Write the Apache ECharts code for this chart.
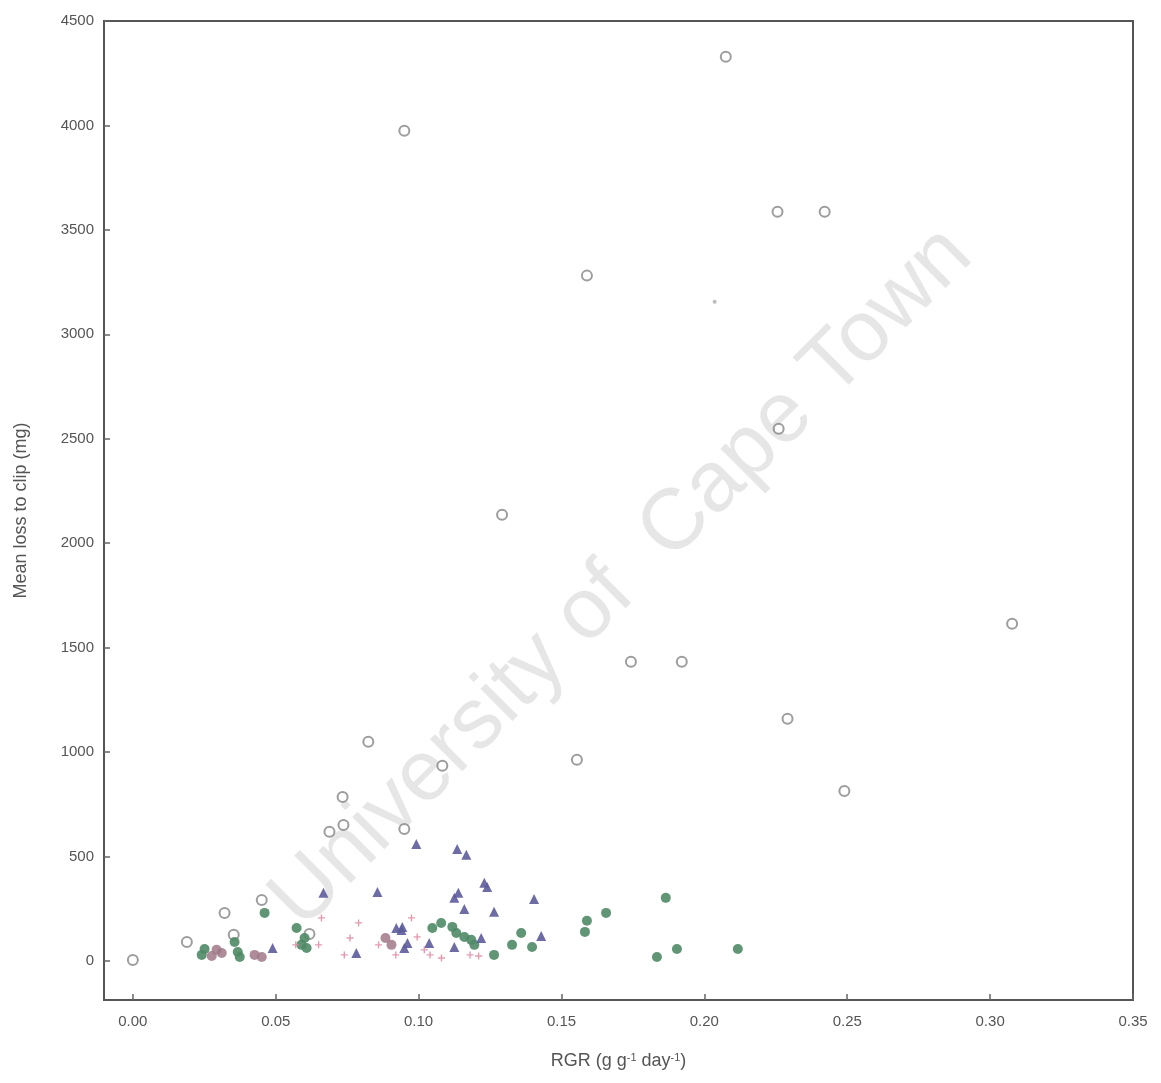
<!DOCTYPE html>
<html><head><meta charset="utf-8">
<script src="https://cdn.jsdelivr.net/npm/echarts@6/dist/echarts.min.js"></script>
<style>html,body{margin:0;padding:0;background:#fff}#c{width:1161px;height:1083px}</style>
</head><body><div id="c"></div>
<script>
// Data (RGR, mean loss to clip in mg)
var openSeries = [[0.000,5],[0.0189,91],[0.0321,230],[0.0353,125],[0.0451,292],[0.0618,129],[0.0688,618],[0.0734,785],[0.0737,651],[0.0824,1049],[0.0950,632],[0.0950,3975],[0.1083,934],[0.1292,2136],[0.1554,963],[0.1589,3281],[0.1743,1432],[0.1921,1432],[0.2075,4329],[0.2256,3587],[0.2421,3587],[0.2260,2548],[0.2291,1159],[0.2490,814],[0.3077,1614]];
var greenSeries = [[0.0241,29],[0.0251,57],[0.0367,43],[0.0356,91],[0.0374,19],[0.0461,230],[0.0573,158],[0.0590,77],[0.0601,110],[0.0608,62],[0.1048,158],[0.1079,182],[0.1118,163],[0.1132,134],[0.1160,115],[0.1184,101],[0.1195,77],[0.1359,134],[0.1327,77],[0.1397,67],[0.1264,29],[0.1865,302],[0.1656,230],[0.1589,192],[0.1582,139],[0.1904,57],[0.1834,19],[0.2117,57]];
var triSeries = [[0.0489,62],[0.0667,326],[0.0856,330],[0.0992,560],[0.1135,536],[0.1167,508],[0.1230,374],[0.1240,354],[0.1139,326],[0.1125,302],[0.1160,249],[0.1264,235],[0.1404,297],[0.1429,120],[0.1219,110],[0.1037,86],[0.1125,67],[0.0943,163],[0.0782,38],[0.0922,158],[0.0940,148],[0.0961,86],[0.0950,62]];
var mauveSeries = [[0.0293,53],[0.0311,38],[0.0276,24],[0.0426,29],[0.0451,19],[0.0884,110],[0.0905,77]];
var pinkSeries = [[0.066,206],[0.074,29],[0.079,182],[0.0975,206],[0.0995,115],[0.108,14],[0.121,24],[0.118,29],[0.065,77],[0.057,77],[0.076,110],[0.086,77],[0.092,29],[0.102,53],[0.104,29]];
var faintSeries = [[0.2036,3156]];
var xTicks = [0,0.05,0.10,0.15,0.20,0.25,0.30,0.35];
var yTicks = [0,500,1000,1500,2000,2500,3000,3500,4000,4500];

var font = '"Liberation Sans Narrow","Liberation Sans",Arial,sans-serif';
var chart = echarts.init(document.getElementById('c'));
chart.setOption({
  animation:false,
  grid:{left:104,right:28,top:21,bottom:83,show:true,borderColor:'#555',borderWidth:2,backgroundColor:'transparent'},
  xAxis:{type:'value',min:-0.0101,max:0.35,
    axisLine:{show:false,onZero:false},
    axisTick:{show:true,inside:true,length:6,customValues:xTicks,lineStyle:{color:'#666',width:1.5}},
    axisLabel:{customValues:xTicks,formatter:function(v){return v.toFixed(2);},color:'#555',fontFamily:font,fontSize:15,margin:14},
    splitLine:{show:false},
    name:'RGR (g g{s|-1} day{s|-1})',nameLocation:'middle',nameGap:52,
    nameTextStyle:{color:'#555',fontFamily:font,fontSize:18,rich:{s:{fontSize:11,verticalAlign:'top',padding:[0,0,8,0],color:'#555',fontFamily:font}}}
  },
  yAxis:{type:'value',min:-187,max:4500,
    axisLine:{show:false,onZero:false},
    axisTick:{show:true,inside:true,length:6,customValues:yTicks,lineStyle:{color:'#666',width:1.5}},
    axisLabel:{customValues:yTicks,formatter:function(v){return String(v);},color:'#555',fontFamily:font,fontSize:15,margin:10},
    splitLine:{show:false},
    name:'Mean loss to clip (mg)',nameLocation:'middle',nameGap:74,nameRotate:90,
    nameTextStyle:{color:'#555',fontFamily:font,fontSize:18}
  },
  graphic:[{type:'text',
    style:{text:'University of  Cape Town',fill:'rgba(200,200,200,0.45)',font:'86px "Liberation Sans",Arial,sans-serif',textAlign:'center',textVerticalAlign:'middle'},
    x:622,y:578,rotation:Math.PI/4,z:1,silent:true}],
  series:[
    {type:'scatter',data:openSeries,symbol:'emptyCircle',symbolSize:10,itemStyle:{color:'#858585',borderWidth:2.5},z:3},
    {type:'scatter',data:greenSeries,symbol:'circle',symbolSize:10,itemStyle:{color:'#4f8a66',opacity:0.9},z:4},
    {type:'scatter',data:triSeries,symbol:'triangle',symbolSize:10,itemStyle:{color:'#5d5c9a',opacity:0.9},z:4},
    {type:'scatter',data:mauveSeries,symbol:'circle',symbolSize:10,itemStyle:{color:'#a07888',opacity:0.85},z:4},
    {type:'scatter',data:pinkSeries,symbol:'path://M4,0 L6,0 L6,4 L10,4 L10,6 L6,6 L6,10 L4,10 L4,6 L0,6 L0,4 L4,4 Z',symbolSize:7,itemStyle:{color:'#e08aa0',opacity:0.85},z:4},
    {type:'scatter',data:faintSeries,symbol:'circle',symbolSize:4,itemStyle:{color:'#aaa'},z:4}
  ]
});
</script></body></html>
